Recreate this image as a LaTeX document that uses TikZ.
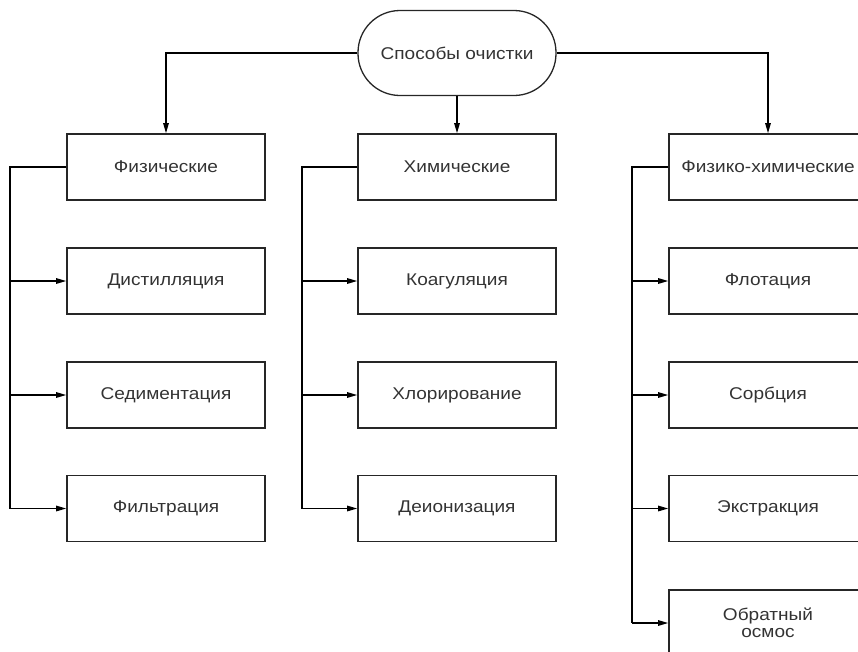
\documentclass[tikz,border=0pt]{standalone}
\usepackage{fontspec}
\setmainfont{Liberation Sans}[FakeStretch=1.12]
\usetikzlibrary{arrows.meta}
\definecolor{txt}{HTML}{333333}
\begin{document}
\begin{tikzpicture}[x=1pt,y=-1pt,
  box/.style={draw=black!85,line width=1.6pt,minimum width=198pt,minimum height=66pt,inner sep=0pt,align=center,text=txt,font=\fontsize{17}{17}\selectfont},
  term/.style={draw=black!85,line width=1.3pt,minimum width=198pt,minimum height=85pt,rounded corners=42pt,inner sep=0pt,text=txt,font=\fontsize{17}{17}\selectfont},
  conn/.style={line width=1.2pt,-{Triangle[length=10pt,width=5.5pt]}},
  bus/.style={line width=1.7pt},
  feed/.style={line width=1.3pt,-{Triangle[length=10pt,width=5.5pt]}}]
\useasboundingbox (0,0) rectangle (858,651);
\node[term] (t) at (457,53) {Способы очистки};
% left column
\node[box] (p0) at (166,167) {Физические};
\node[box] (p1) at (166,281) {Дистилляция};
\node[box] (p2) at (166,395) {Седиментация};
\node[box] (p3) at (166,508.5) {Фильтрация};
% middle column
\node[box] (c0) at (457,167) {Химические};
\node[box] (c1) at (457,281) {Коагуляция};
\node[box] (c2) at (457,395) {Хлорирование};
\node[box] (c3) at (457,508.5) {Деионизация};
% right column
\node[box] (f0) at (768,167) {Физико-химические};
\node[box] (f1) at (768,281) {Флотация};
\node[box] (f2) at (768,395) {Сорбция};
\node[box] (f3) at (768,508.5) {Экстракция};
\node[box] (f4) at (768,623) {Обратный\\осмос};
% top connectors
\draw[conn] (t.west) -| (p0.north);
\draw[conn] (t.south) -- (c0.north);
\draw[conn] (t.east) -| (f0.north);
% buses
\coordinate (bp) at (10,167);
\coordinate (bc) at (302,167);
\coordinate (bf) at (632,167);
\draw[bus] (p0.west) -- (bp) -- (bp |- p3.west);
\draw[bus] (c0.west) -- (bc) -- (bc |- c3.west);
\draw[bus] (f0.west) -- (bf) -- (bf |- f4.west);
\foreach \n in {p1,p2,p3} \draw[feed] (bp |- \n.west) -- (\n.west);
\foreach \n in {c1,c2,c3} \draw[feed] (bc |- \n.west) -- (\n.west);
\foreach \n in {f1,f2,f3,f4} \draw[feed] (bf |- \n.west) -- (\n.west);
\end{tikzpicture}
\end{document}
